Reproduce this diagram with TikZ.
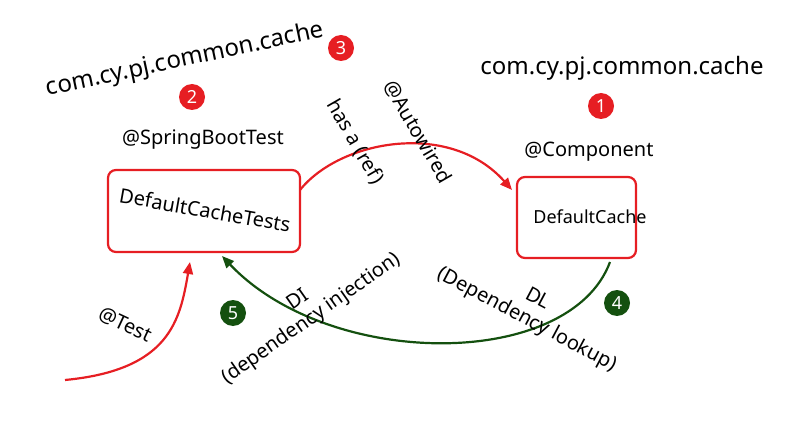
\documentclass[tikz,border=0pt]{standalone}
\usepackage{fontspec}
\setmainfont{Noto Sans}
\usetikzlibrary{arrows.meta}
\definecolor{rd}{RGB}{230,30,35}
\definecolor{gr}{RGB}{20,80,15}
\begin{document}
\begin{tikzpicture}[x=1pt,y=-1pt,
  box/.style={draw=rd,line width=2.2pt,rounded corners=8pt},
  num/.style={circle,fill=#1,text=white,inner sep=0pt,minimum size=26pt,font=\fontsize{18}{18}\selectfont\bfseries},
  lab/.style={font=\fontsize{20}{23}\selectfont,align=center},
  big/.style={font=\fontsize{24}{26}\selectfont}]
\useasboundingbox (0,0) rectangle (800,446);
\node[big,rotate=12] (p2) at (185,60) {com.cy.pj.common.cache};
\node[big] (p1) at (622,68) {com.cy.pj.common.cache};
\node[num=rd] (n2) at (192,97) {2};
\node[num=rd] (n3) at (341,48) {3};
\node[num=rd] (n1) at (601,106) {1};
\node[num=gr] (n4) at (617,303) {4};
\node[num=gr] (n5) at (233,313) {5};
\node[lab] (sbt) at (203,140) {@SpringBootTest};
\node[lab] (cmp) at (589,152) {@Component};
\draw[box] (108,170) rectangle (300,252);
\node[lab,rotate=-10] (dct) at (205,210) {DefaultCacheTests};
\coordinate (dctR) at (300,190);
\coordinate (dctB) at (222,256);
\draw[box] (517,177) rectangle (636,258);
\node[font=\fontsize{18}{20}\selectfont] (dc) at (590,217) {DefaultCache};
\coordinate (dcL) at (512,190);
\coordinate (dcB) at (610,262);
\draw[rd,line width=2.2pt,-{Triangle[length=12pt,width=10pt]}] (dctR) .. controls (340,140) and (450,120) .. (dcL);
\node[lab,rotate=-60] (has) at (355,142) {has a (ref)};
\node[lab,rotate=-60] (aut) at (418,132) {@Autowired};
\draw[gr,line width=2.2pt,-{Triangle[length=12pt,width=10pt]}] (dcB) .. controls (570,370) and (330,370) .. (dctB);
\node[lab,rotate=35] (di) at (305,310) {DI\\(dependency injection)};
\node[lab,rotate=-28] (dl) at (532,310) {DL\\(Dependency lookup)};
\coordinate (ts) at (65,380);
\coordinate (te) at (190,262);
\draw[rd,line width=2.2pt,-{Triangle[length=12pt,width=10pt]}] (ts) .. controls (170,370) and (180,320) .. (te);
\node[lab,rotate=-25] (test) at (125,325) {@Test};
\end{tikzpicture}
\end{document}
